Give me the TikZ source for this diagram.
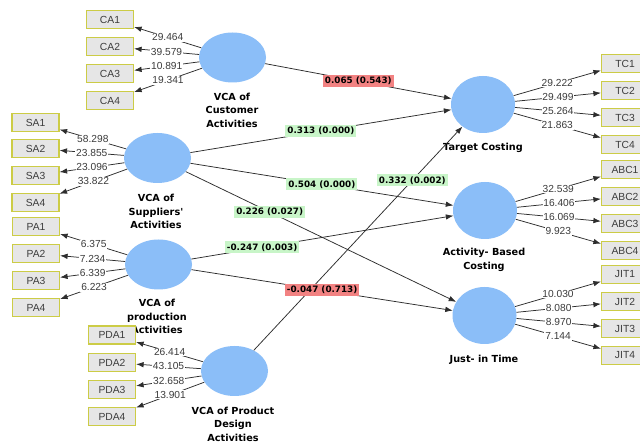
\documentclass[tikz,border=0pt]{standalone}
\usepackage{fontspec}
\setmainfont{Liberation Sans}
\newfontfamily\dvs{DejaVu Sans}
\usetikzlibrary{shapes.geometric,arrows.meta}
\definecolor{lvblue}{RGB}{139,190,248}
\definecolor{boxfill}{RGB}{230,230,230}
\definecolor{boxline}{RGB}{204,204,70}
\definecolor{redlab}{RGB}{242,130,130}
\definecolor{greenlab}{RGB}{200,245,200}
\definecolor{linegray}{RGB}{45,45,45}
\definecolor{txtgray}{RGB}{60,60,60}
\begin{document}
\begin{tikzpicture}[x=1pt,y=-1pt,
 lv/.style={ellipse, fill=lvblue, draw=none, inner sep=0, minimum width=67pt, minimum height=50pt},
 lvend/.style={ellipse, fill=lvblue, draw=none, inner sep=0, minimum width=64pt, minimum height=57pt},
 ind/.style={rectangle, fill=boxfill, draw=boxline, line width=1.2pt, minimum width=47pt, minimum height=18pt, inner sep=0, font=\fontsize{10.3}{12}\selectfont, text=txtgray},
 cname/.style={align=center, font=\dvs\bfseries\fontsize{9.7}{13.4}\selectfont, text=black},
 ld/.style={draw=linegray, line width=0.75pt, -{Latex[length=7.5pt,width=5.5pt]}},
 lval/.style={midway, fill=white, inner sep=0.8pt, font=\fontsize{10.2}{12}\selectfont, text=txtgray},
 pc/.style={draw=linegray, line width=0.75pt, -{Latex[length=7.5pt,width=5.5pt]}},
 pcg/.style={fill=greenlab, inner xsep=2pt, inner ysep=2pt, font=\dvs\bfseries\fontsize{8.8}{10}\selectfont, text=black},
 pcr/.style={pcg, fill=redlab}]
\useasboundingbox (0,0) rectangle (640,443);
\fill[white] (0,0) rectangle (640,443);
\begin{scope}
\clip (0,0) rectangle (640,443);
% construct labels (drawn first; PDA1 box overlaps one)
\node[cname] (custlab) at (232,110) {VCA of\\Customer\\Activities};
\node[cname] (supplab) at (156,211.5) {VCA of\\Suppliers'\\Activities};
\node[cname] (prodlab) at (157,316.5) {VCA of\\production\\Activities};
\node[cname] (pdlab) at (233,424) {VCA of Product\\Design\\Activities};
\node[cname] (tclab) at (483,148) {Target Costing};
\node[cname] (abclab) at (484,260) {Activity- Based\\Costing};
\node[cname] (jitlab) at (484,360) {Just- in Time};
% latent variables
\node[lv] (cust) at (232.5,57.5) {};
\node[lv] (supp) at (157.5,158) {};
\node[lv] (prod) at (158.5,264.5) {};
\node[lv] (pd) at (234.5,371) {};
\node[lvend] (tc) at (483,104.5) {};
\node[lvend] (abc) at (485,210.5) {};
\node[lvend] (jit) at (484.5,315.5) {};
% indicators
\node[ind] (ca1) at (110,19.5) {CA1};
\node[ind] (ca2) at (110,46.5) {CA2};
\node[ind] (ca3) at (110,73.5) {CA3};
\node[ind] (ca4) at (110,100.5) {CA4};
\node[ind] (sa1) at (35.5,122.5) {SA1};
\node[ind] (sa2) at (35.5,148.5) {SA2};
\node[ind] (sa3) at (35.5,175.5) {SA3};
\node[ind] (sa4) at (35.5,202.5) {SA4};
\node[ind] (pa1) at (36,226.5) {PA1};
\node[ind] (pa2) at (36,253.5) {PA2};
\node[ind] (pa3) at (36,280.5) {PA3};
\node[ind] (pa4) at (36,307.5) {PA4};
\node[ind] (pda1) at (112,335) {PDA1};
\node[ind] (pda2) at (112,362.5) {PDA2};
\node[ind] (pda3) at (112,389.5) {PDA3};
\node[ind] (pda4) at (112,416.5) {PDA4};
\node[ind] (tc1) at (625,63.5) {TC1};
\node[ind] (tc2) at (625,90.5) {TC2};
\node[ind] (tc3) at (625,117.5) {TC3};
\node[ind] (tc4) at (625,144.5) {TC4};
\node[ind] (abc1) at (625,169.5) {ABC1};
\node[ind] (abc2) at (625,196.5) {ABC2};
\node[ind] (abc3) at (625,223.5) {ABC3};
\node[ind] (abc4) at (625,250.5) {ABC4};
\node[ind] (jit1) at (625,274.5) {JIT1};
\node[ind] (jit2) at (625,301.5) {JIT2};
\node[ind] (jit3) at (625,328.5) {JIT3};
\node[ind] (jit4) at (625,355.5) {JIT4};
% outer loadings
\draw[ld] (cust) -- (ca1) node[lval] {29.464};
\draw[ld] (cust) -- (ca2) node[lval] {39.579};
\draw[ld] (cust) -- (ca3) node[lval] {10.891};
\draw[ld] (cust) -- (ca4) node[lval] {19.341};
\draw[ld] (supp) -- (sa1) node[lval] {58.298};
\draw[ld] (supp) -- (sa2) node[lval] {23.855};
\draw[ld] (supp) -- (sa3) node[lval] {23.096};
\draw[ld] (supp) -- (sa4) node[lval] {33.822};
\draw[ld] (prod) -- (pa1) node[lval] {6.375};
\draw[ld] (prod) -- (pa2) node[lval] {7.234};
\draw[ld] (prod) -- (pa3) node[lval] {6.339};
\draw[ld] (prod) -- (pa4) node[lval] {6.223};
\draw[ld] (pd) -- (pda1) node[lval] {26.414};
\draw[ld] (pd) -- (pda2) node[lval] {43.105};
\draw[ld] (pd) -- (pda3) node[lval] {32.658};
\draw[ld] (pd) -- (pda4) node[lval] {13.901};
\draw[ld] (tc) -- (tc1) node[lval] {29.222};
\draw[ld] (tc) -- (tc2) node[lval] {29.499};
\draw[ld] (tc) -- (tc3) node[lval] {25.264};
\draw[ld] (tc) -- (tc4) node[lval] {21.863};
\draw[ld] (abc) -- (abc1) node[lval] {32.539};
\draw[ld] (abc) -- (abc2) node[lval] {16.406};
\draw[ld] (abc) -- (abc3) node[lval] {16.069};
\draw[ld] (abc) -- (abc4) node[lval] {9.923};
\draw[ld] (jit) -- (jit1) node[lval] {10.030};
\draw[ld] (jit) -- (jit2) node[lval] {8.080};
\draw[ld] (jit) -- (jit3) node[lval] {8.970};
\draw[ld] (jit) -- (jit4) node[lval] {7.144};
% structural paths
\draw[pc] (pd) -- (tc) node[pcg, pos=.76] {0.332 (0.002)};
\draw[pc] (cust) -- (tc) node[pcr, pos=.5] {0.065 (0.543)};
\draw[pc] (supp) -- (tc) node[pcg, pos=.5] {0.313 (0.000)};
\draw[pc] (supp) -- (abc) node[pcg, pos=.5] {0.504 (0.000)};
\draw[pc] (supp) -- (jit) node[pcg, pos=.31] {0.226 (0.027)};
\draw[pc] (prod) -- (abc) node[pcg, pos=.27] {-0.247 (0.003)};
\draw[pc] (prod) -- (jit) node[pcr, pos=.5] {-0.047 (0.713)};
\end{scope}
\end{tikzpicture}
\end{document}
